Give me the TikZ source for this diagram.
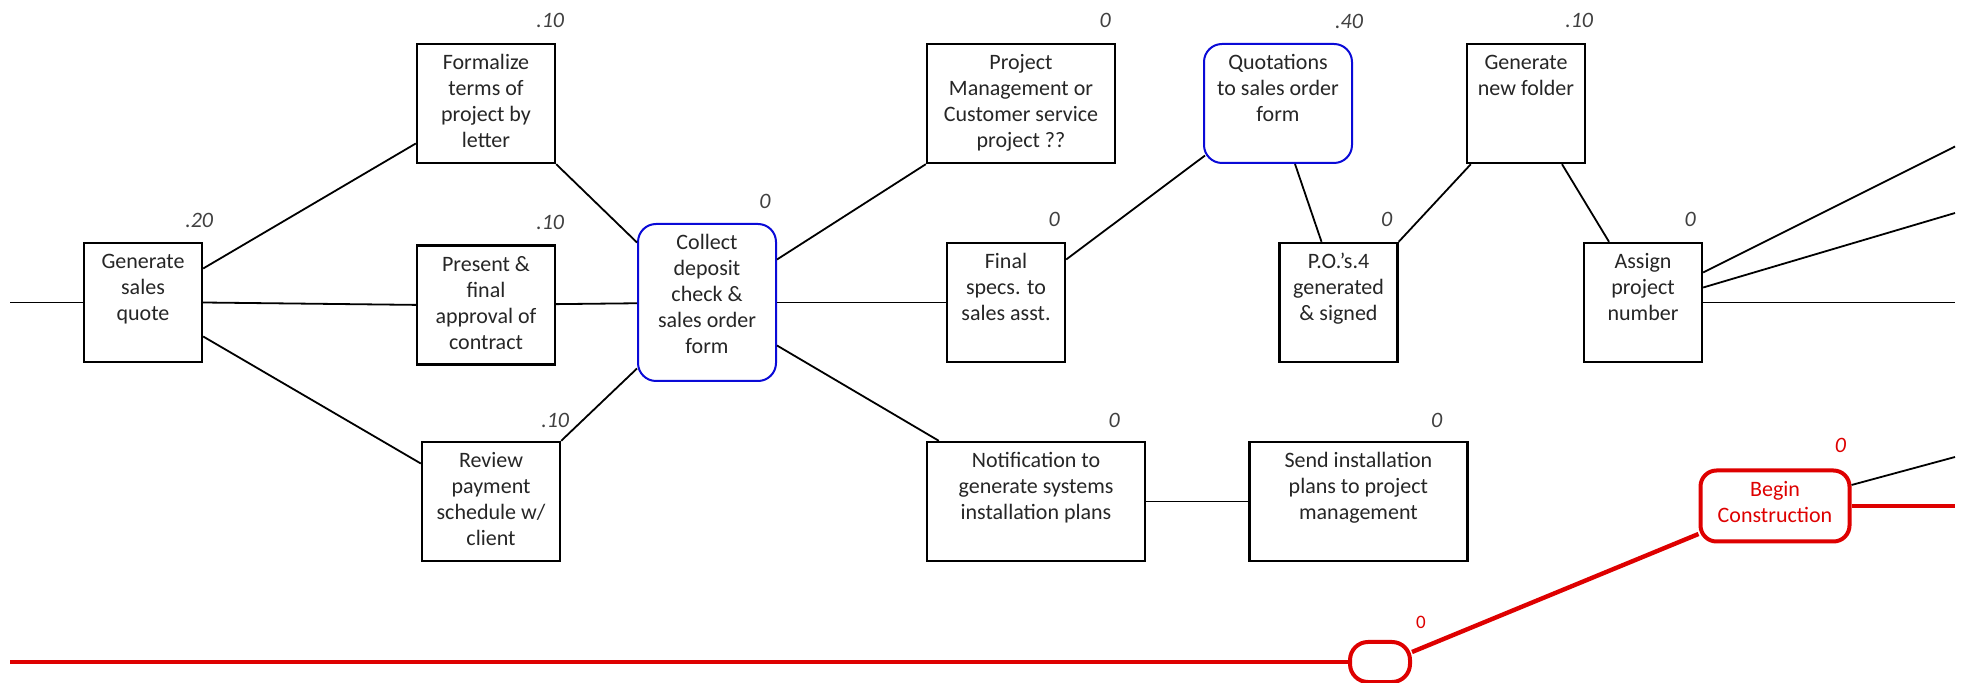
\documentclass[tikz,border=0pt]{standalone}
\usepackage{fontspec}
\setmainfont{Carlito}
\usepackage{xcolor}
\usetikzlibrary{positioning}
\definecolor{flowblue}{RGB}{10,10,215}
\definecolor{flowred}{RGB}{222,0,0}
\tikzset{task node/.style={rectangle,draw,line width=1.2pt,inner sep=0pt,fill=white,font=\fontsize{11}{13}\selectfont,text=black!85}}
\tikzset{check node/.style={task node,draw=flowblue,line width=1pt,rounded corners=9pt}}
\tikzset{start node/.style={task node,draw=flowred,text=flowred,line width=2pt,rounded corners=8pt}}
\tikzset{cost/.style={inner sep=1pt,fill=white,text=black!75,font=\fontsize{11}{13}\selectfont\itshape}}
\tikzset{link/.style={line width=0.9pt}}
\tikzset{critical/.style={draw=flowred,line width=2.2pt}}
\newcommand{\taskbox}[3]{\parbox[t][#2][t]{#1}{\centering\rule{0pt}{13pt}#3}}

\begin{document}
\begin{tikzpicture}[x=0.5pt,y=-0.5pt]
    \useasboundingbox (0,0) rectangle (1965,683);

    \node[task node] (gsq) at (143,302.5) {\taskbox{59pt}{59.5pt}{Generate\\sales\\quote}};
    \node[task node] (formalize) at (486,103.5) {\taskbox{69pt}{59.5pt}{Formalize\\terms of\\project by\\letter}};
    \node[task node] (present) [below = 40pt of formalize] {\taskbox{69pt}{59.5pt}{Present \&\\final\\approval of\\contract}};
    \node[task node] (review) at (491,501.5) {\taskbox{69pt}{59.5pt}{Review\\payment\\schedule w/\\client}};
    \node[check node] (collect) at (707,302.5) {\taskbox{69pt}{78.5pt}{Collect\\deposit\\check \&\\sales order\\form}};
    \node[task node] (pm) at (1021,103.5) {\taskbox{94pt}{59.5pt}{Project\\Management or\\Customer service\\project ??}};
    \node[task node] (final) at (1006,302.5) {\taskbox{59pt}{59.5pt}{Final\\specs. to\\sales asst.}};
    \node[task node] (notif) at (1036,501.5) {\taskbox{109pt}{59.5pt}{Notification to\\generate systems\\installation plans}};
    \node[task node] (send) [right = 51pt of notif] {\taskbox{109pt}{59.5pt}{Send installation\\plans to project\\management}};
    \node[check node] (quot) at (1278,103.5) {\taskbox{74pt}{59.5pt}{Quotations\\to sales order\\form}};
    \node[task node] (po) at (1338.5,302.5) {\taskbox{59pt}{59.5pt}{P.O.'s.4\\generated\\\& signed}};
    \node[task node] (gnf) at (1526,103.5) {\taskbox{59pt}{59.5pt}{Generate\\new folder}};
    \node[task node] (assign) at (1643,302.5) {\taskbox{59pt}{59.5pt}{Assign\\project\\number}};
    \node[start node] (bc) at (1775,506) {\taskbox{74.5pt}{35.5pt}{Begin\\Construction}};
    \node[start node,minimum width=30pt,minimum height=20pt,rounded corners=9pt] (milestone) at (1380,662) {};

    \coordinate (entry) at (10,302.5);
    \coordinate (redentry) at (10,662);
    \coordinate (outA) at (1955,146.5);
    \coordinate (outB) at (1955,213);
    \coordinate (outC) at (1955,302.5);
    \coordinate (outD) at (1955,457);
    \coordinate (outE) at (1955,506);

    \draw[link] (entry) -- (gsq);
    \draw[link] ([yshift=17pt]gsq.east) -- ([yshift=-20pt]formalize.west);
    \draw[link] (gsq.east) -- (present.west);
    \draw[link] ([yshift=-17pt]gsq.east) -- ([yshift=19pt]review.west);
    \draw[link] (formalize.south east) -- ([yshift=30pt]collect.west);
    \draw[link] (present) -- (collect);
    \draw[link] (review.north east) -- ([yshift=-33pt]collect.west);
    \draw[link] ([yshift=21.5pt]collect.east) -- (pm.south west);
    \draw[link] (collect) -- (final);
    \draw[link] ([yshift=-21.5pt]collect.east) -- ([xshift=6.5pt]notif.north west);
    \draw[link] (notif) -- (send);
    \draw[link] ([yshift=21.5pt]final.east) -- ([shift={(1pt,-26pt)}]quot.west);
    \draw[link] ([xshift=8.5pt]quot.south) -- ([xshift=-8.5pt]po.north);
    \draw[link] (po.north east) -- ([xshift=2.5pt]gnf.south west);
    \draw[link] ([xshift=18pt]gnf.south) -- ([xshift=-17pt]assign.north);
    \draw[link] ([yshift=15pt]assign.east) -- (outA);
    \draw[link] ([yshift=7.5pt]assign.east) -- (outB);
    \draw[link] (assign) -- (outC);
    \draw[link] ([yshift=10.5pt]bc.east) -- (outD);
    \draw[critical] (bc) -- (outE);
    \draw[critical] (redentry) -- (milestone);
    \draw[critical] ([yshift=5pt]milestone.east) -- ([yshift=-14pt]bc.west);

    % slack on each step
    \node[cost] (gsqcost) at ([shift={(-2pt,10.5pt)}]gsq.north east) {.20};
    \node[cost] (formalizecost) at ([shift={(-3pt,11pt)}]formalize.north east) {.10};
    \node[cost] (presentcost) at ([shift={(-3pt,11pt)}]present.north east) {.10};
    \node[cost] (reviewcost) at ([shift={(-3pt,10pt)}]review.north east) {.10};
    \node[cost] (collectcost) at ([shift={(-6pt,11pt)}]collect.north east) {0};
    \node[cost] (pmcost) at ([shift={(-5.5pt,11pt)}]pm.north east) {0};
    \node[cost] (finalcost) at ([shift={(-6pt,11pt)}]final.north east) {0};
    \node[cost] (notifcost) at ([shift={(-16pt,10pt)}]notif.north east) {0};
    \node[cost] (sendcost) at ([shift={(-16pt,10pt)}]send.north east) {0};
    \node[cost] (quotcost) at ([shift={(-2pt,11pt)}]quot.north east) {.40};
    \node[cost] (pocost) at ([shift={(-6pt,11pt)}]po.north east) {0};
    \node[cost] (gnfcost) at ([shift={(-3.5pt,11pt)}]gnf.north east) {.10};
    \node[cost] (assigncost) at ([shift={(-6.5pt,11pt)}]assign.north east) {0};
    \node[cost,text=flowred] (bccost) at ([shift={(-5.5pt,11.5pt)}]bc.north east) {0};
    \node[cost,text=flowred,font=\fontsize{9.5}{11}\selectfont] (milestonecost) at ([shift={(4.5pt,9pt)}]milestone.north east) {0};
\end{tikzpicture}
\end{document}
